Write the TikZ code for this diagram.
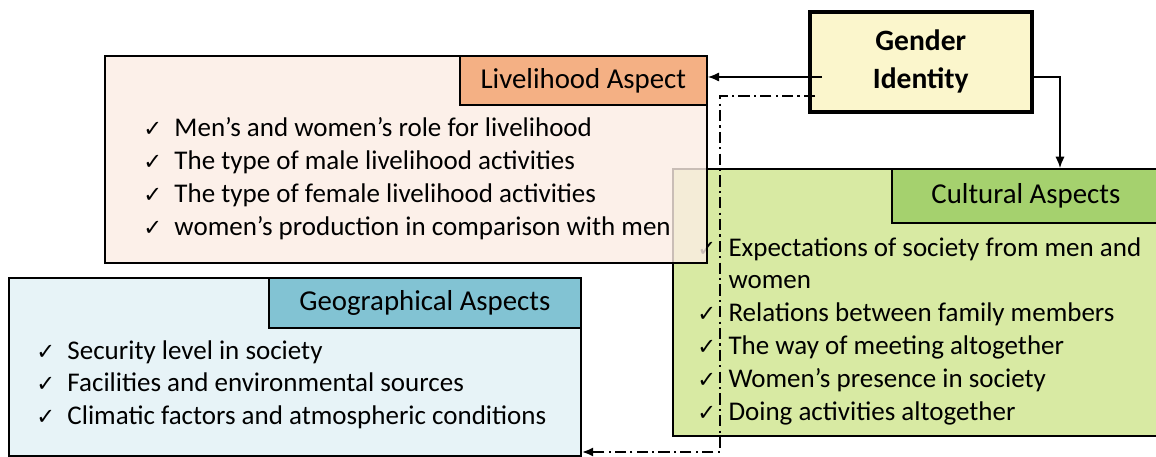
\documentclass[tikz,border=0pt]{standalone}
\usepackage{fontspec}
\setmainfont{Carlito}
\newfontfamily\symfont{DejaVu Sans}
\usetikzlibrary{arrows.meta}

\definecolor{lhfill}{HTML}{FCEDE4}
\definecolor{lhhead}{HTML}{F4B084}
\definecolor{gifill}{HTML}{FBF6CC}
\definecolor{cufill}{HTML}{D8EAA3}
\definecolor{cuhead}{HTML}{A5D16E}
\definecolor{gefill}{HTML}{E7F3F7}
\definecolor{gehead}{HTML}{82C3D3}

\newcommand{\chk}{\makebox[0.78cm][l]{\symfont\fontsize{16}{16}\selectfont ✓}}
\newcommand{\nochk}{\makebox[0.78cm][l]{}}

\tikzset{
  aspect/.style={draw, very thick, inner sep=0pt, anchor=north west},
  head/.style={draw, very thick, inner sep=0pt, anchor=north west, font=\fontsize{20.5}{24}\selectfont},
  items/.style={inner sep=0pt, anchor=north west, align=left, font=\fontsize{19.2}{23.4}\selectfont},
  link/.style={line width=1pt, -{Latex[length=8pt, width=6.5pt]}},
}

\begin{document}
\begin{tikzpicture}[x=0.025cm, y=-0.025cm]
  \useasboundingbox[fill=white] (0,0) rectangle (1156,457);

  % Geographical
  \node[aspect, fill=gefill, minimum width=14.3cm, minimum height=4.45cm] (geo) at (8,277) {};
  \node[head, fill=gehead, minimum width=7.8cm, minimum height=1.25cm] (geohead) at (268,277) {Geographical Aspects};
  \node[items] (geolist) at (36,340) {\chk Security level in society\\
    \chk Facilities and environmental sources\\
    \chk Climatic factors and atmospheric conditions};

  % Cultural
  \node[aspect, fill=cufill, minimum width=12.25cm, minimum height=6.675cm] (cul) at (672,168) {};
  \node[head, fill=cuhead, minimum width=6.7cm, minimum height=1.35cm] (culhead) at (891,168) {Cultural Aspects};
  \node[items] (cullist) at (697,237) {\chk Expectations of society from men and\\
    \nochk women\\
    \chk Relations between family members\\
    \chk The way of meeting altogether\\
    \chk Women’s presence in society\\
    \chk Doing activities altogether};

  % Livelihood (liegt halb durchsichtig drueber)
  \node[aspect, fill=lhfill, fill opacity=0.8, minimum width=15.05cm, minimum height=5.175cm] (lh) at (104,55) {};
  \node[head, fill=lhhead, minimum width=6.175cm, minimum height=1.225cm] (lhhead) at (459,55) {Livelihood Aspect};
  \node[items] (lhlist) at (143,117) {\chk Men’s and women’s role for livelihood\\
    \chk The type of male livelihood activities\\
    \chk The type of female livelihood activities\\
    \chk women’s production in comparison with men};

  % Gender Identity
  \node[aspect, line width=2.5pt, fill=gifill, minimum width=5.55cm, minimum height=2.5cm,
    align=center, font=\bfseries\fontsize{21}{27}\selectfont] (gender) at (808,10) {Gender\\Identity};

  % Pfeile
  \coordinate (gl) at (822,77);
  \coordinate (ct) at (1060,168);
  \coordinate (gd) at (815,96);
  \coordinate (dd) at (720,452);

  \draw[link] (gl) -- (gl -| lh.east);
  \draw[link] (gender.east |- gl) -| (ct);
  \draw[link, line width=1.9pt, dash pattern=on 8pt off 3pt on 1.5pt off 3pt]
    (gd) -| (dd) -- (dd -| geo.east);

\end{tikzpicture}
\end{document}
